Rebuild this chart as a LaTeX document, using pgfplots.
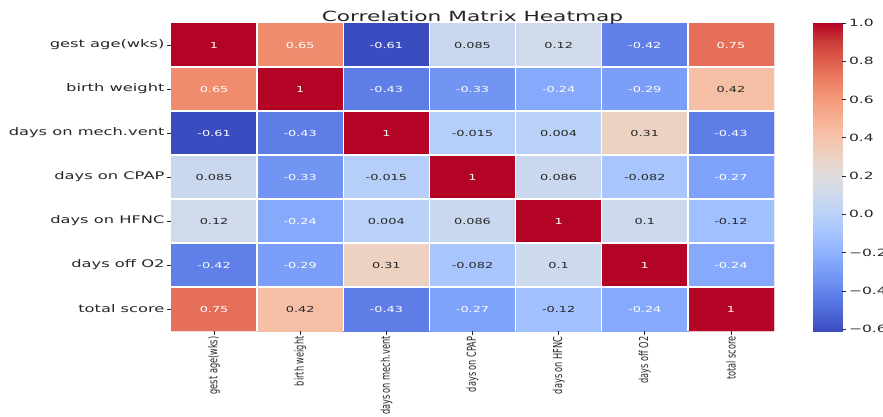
\documentclass[border=0pt]{standalone}
\usepackage{fontspec}
\setmainfont{DejaVu Sans}
\newfontfamily\wide[FakeStretch=1.55]{DejaVu Sans}
\usepackage{pgfplots}
\usepackage{pgfplotstable}
\pgfplotsset{compat=1.18}
\pgfplotsset{colormap={coolwarm}{rgb255=(59,76,192) rgb255=(77,104,215) rgb255=(98,130,234) rgb255=(119,154,247) rgb255=(141,176,254) rgb255=(163,194,255) rgb255=(184,208,249) rgb255=(204,217,238) rgb255=(221,221,221) rgb255=(236,211,197) rgb255=(245,196,172) rgb255=(247,177,148) rgb255=(244,154,123) rgb255=(236,127,99) rgb255=(222,96,77) rgb255=(203,62,56) rgb255=(180,4,38)}}
\definecolor{txt}{RGB}{38,38,38}
\newcommand{\tl}[1]{\scalebox{1}[1.5]{#1}}
\pgfplotstableread{
x y c
0 0 1
1 0 0.65
2 0 -0.61
3 0 0.085
4 0 0.12
5 0 -0.42
6 0 0.75
0 1 0.65
1 1 1
2 1 -0.43
3 1 -0.33
4 1 -0.24
5 1 -0.29
6 1 0.42
0 2 -0.61
1 2 -0.43
2 2 1
3 2 -0.015
4 2 0.004
5 2 0.31
6 2 -0.43
0 3 0.085
1 3 -0.33
2 3 -0.015
3 3 1
4 3 0.086
5 3 -0.082
6 3 -0.27
0 4 0.12
1 4 -0.24
2 4 0.004
3 4 0.086
4 4 1
5 4 0.1
6 4 -0.12
0 5 -0.42
1 5 -0.29
2 5 0.31
3 5 -0.082
4 5 0.1
5 5 1
6 5 -0.24
0 6 0.75
1 6 0.42
2 6 -0.43
3 6 -0.27
4 6 -0.12
5 6 -0.24
6 6 1
}\corr
\pgfplotstableread{
x y lab
0 0 1
1 0 0.65
2 0 -0.61
5 0 -0.42
6 0 0.75
0 1 0.65
1 1 1
2 1 -0.43
3 1 -0.33
4 1 -0.24
5 1 -0.29
0 2 -0.61
1 2 -0.43
2 2 1
6 2 -0.43
1 3 -0.33
3 3 1
6 3 -0.27
1 4 -0.24
4 4 1
0 5 -0.42
1 5 -0.29
5 5 1
6 5 -0.24
0 6 0.75
2 6 -0.43
3 6 -0.27
5 6 -0.24
6 6 1
}\whitelab
\pgfplotstableread{
x y lab
3 0 0.085
4 0 0.12
6 1 0.42
3 2 -0.015
4 2 0.004
5 2 0.31
0 3 0.085
2 3 -0.015
4 3 0.086
5 3 -0.082
0 4 0.12
2 4 0.004
3 4 0.086
5 4 0.1
6 4 -0.12
2 5 0.31
3 5 -0.082
4 5 0.1
1 6 0.42
4 6 -0.12
}\darklab
\pgfplotstableread{
x y
0 -0.61
1 -0.61
0 1
1 1
}\cbar
\begin{document}
\begin{tikzpicture}
\useasboundingbox (0,0) rectangle (883pt,416pt);
\begin{axis}[
  at={(171pt,85pt)}, anchor=south west,
  scale only axis, width=603pt, height=308pt,
  colormap name=coolwarm,
  point meta min=-0.61, point meta max=1,
  xmin=-0.5, xmax=6.5, ymin=-0.5, ymax=6.5,
  y dir=reverse,
  enlargelimits=false,
  axis line style={draw=none},
  xtick={0,...,6}, ytick={0,...,6},
  xtick pos=left, ytick pos=left,
  tick align=outside,
  major tick length=4pt,
  tick style={txt, line width=0.6pt},
  minor xtick={0.5,1.5,...,5.5},
  minor ytick={0.5,1.5,...,5.5},
  minor tick length=0pt,
  xminorgrids, yminorgrids,
  minor grid style={white, line width=1.3pt},
  axis on top,
  yticklabels={gest age(wks), birth weight, days on mech.vent, days on CPAP, days on HFNC, days off O2, total score},
  yticklabel style={font=\wide\fontsize{10.5}{12}\selectfont, text=txt, xshift=1pt},
  xticklabels={\tl{gest age(wks)}, \tl{birth weight}, \tl{days on mech.vent}, \tl{days on CPAP}, \tl{days on HFNC}, \tl{days off O2}, \tl{total score}},
  xticklabel style={rotate=90, anchor=east, font=\fontsize{8.2}{10}\selectfont, text=txt, xshift=2pt},
  title={Correlation Matrix Heatmap},
  title style={at={(0.5,1)}, anchor=base, yshift=-4pt, font=\wide\fontsize{14}{16}\selectfont, text=txt},
]
\addplot[matrix plot*, mesh/cols=7, point meta=explicit] table[x=x, y=y, meta=c] {\corr};
\addplot[draw=none, nodes near coords, point meta=explicit symbolic,
  nodes near coords align=center,
  every node near coord/.style={anchor=center, text=white, font=\wide\fontsize{8.3}{10}\selectfont}]
  table[x=x, y=y, meta=lab] {\whitelab};
\addplot[draw=none, nodes near coords, point meta=explicit symbolic,
  nodes near coords align=center,
  every node near coord/.style={anchor=center, text=txt, font=\wide\fontsize{8.3}{10}\selectfont}]
  table[x=x, y=y, meta=lab] {\darklab};
\end{axis}
\begin{axis}[
  at={(813pt,85pt)}, anchor=south west,
  scale only axis, width=29pt, height=308pt,
  colormap name=coolwarm,
  point meta min=-0.61, point meta max=1,
  xmin=0, xmax=1, ymin=-0.61, ymax=1,
  enlargelimits=false,
  axis line style={draw=none},
  xtick=\empty,
  ytick={-0.6,-0.4,-0.2,0,0.2,0.4,0.6,0.8,1.0},
  yticklabels={−0.6,−0.4,−0.2,0.0,0.2,0.4,0.6,0.8,1.0},
  ytick pos=right, yticklabel pos=right,
  tick align=outside, major tick length=3.5pt,
  tick style={txt, line width=0.6pt},
  yticklabel style={font=\wide\fontsize{10}{12}\selectfont, text=txt},
  axis on top,
]
\addplot[surf, shader=interp, mesh/cols=2, point meta=y] table[x=x, y=y] {\cbar};
\end{axis}
\end{tikzpicture}
\end{document}
